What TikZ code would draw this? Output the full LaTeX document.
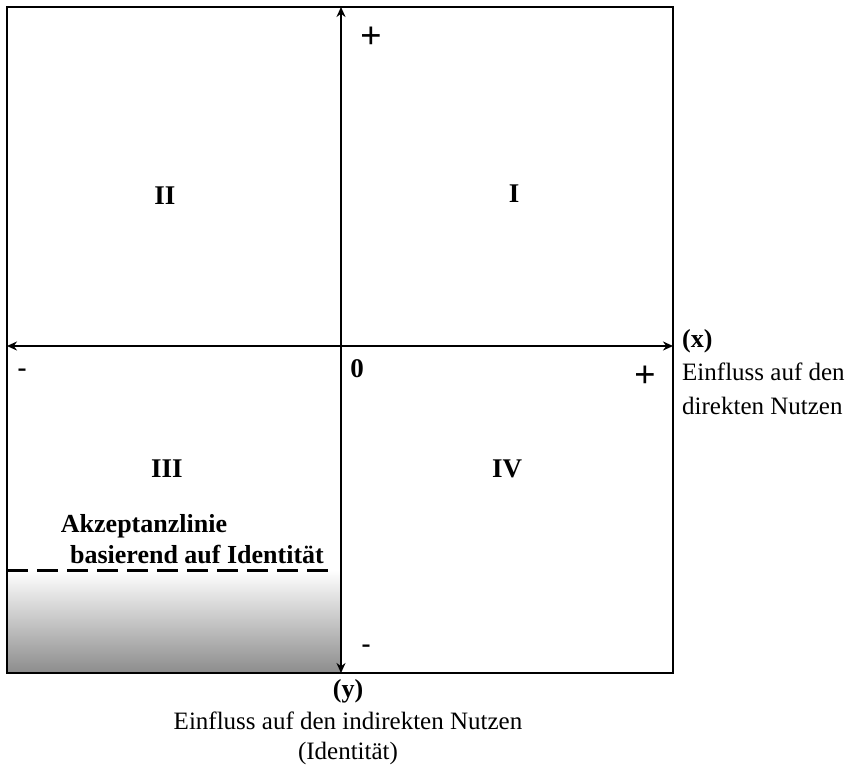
\documentclass[tikz,border=0pt]{standalone}
\usepackage{fontspec}
\setmainfont{Liberation Serif}
\usetikzlibrary{arrows.meta}
\begin{document}
\begin{tikzpicture}[x=1pt,y=-1pt,
  axis/.style={line width=1.8pt,-{Stealth[length=10pt,width=9pt]}},
  frame/.style={line width=1.8pt},
  big/.style={font=\fontsize{27}{30}\selectfont\bfseries},
  sign/.style={font=\fontsize{38}{40}\selectfont\bfseries},
  lbl/.style={font=\fontsize{25}{28}\selectfont},
  blbl/.style={font=\fontsize{26}{28}\selectfont\bfseries}]
\useasboundingbox (0,0) rectangle (859,768);
% shaded acceptance region
\shade[top color=white,bottom color=black!45] (7,570) rectangle (341,673);
\draw[frame] (7,7) rectangle (673,673);
\coordinate (top) at (341,7);
\coordinate (bot) at (341,673);
\coordinate (lft) at (7,346);
\coordinate (rgt) at (673,346);
\coordinate (center) at (341,346);
\draw[axis] (center) -- (top);
\draw[axis] (center) -- (bot);
\draw[axis] (center) -- (lft);
\draw[axis] (center) -- (rgt);
\coordinate (dl) at (7,570);
\coordinate (dr) at (333,570);
\draw[line width=3pt,dash pattern=on 21pt off 9pt] (dl) -- (dr);
% quadrant labels
\node[big] (q2) at (165,196) {II};
\node[big] (q1) at (514,194) {I};
\node[big] (q3) at (167,469) {III};
\node[big] (q4) at (507,469) {IV};
% signs
\node[sign] (pt) at (371,38) {+};
\node[sign] (pr) at (645,377) {+};
\node[big] (ml) at (22,373) {-};
\node[big] (zero) at (357,369) {0};
\node[big] (mb) at (366,649) {-};
% axis captions
\node[blbl,anchor=west,inner sep=0pt] (xl) at (682,341) {(x)};
\node[lbl,anchor=west,inner sep=0pt] (x1) at (682,372) {Einfluss auf den};
\node[lbl,anchor=west,inner sep=0pt] (x2) at (682,406) {direkten Nutzen};
\node[blbl] (yl) at (348,691) {(y)};
\node[lbl] (y1) at (348,721) {Einfluss auf den indirekten Nutzen};
\node[lbl] (y2) at (348,753) {(Identität)};
% acceptance line text
\node[blbl] (a1) at (144,526) {Akzeptanzlinie};
\node[blbl] (a2) at (197,554) {basierend auf Identität};
\end{tikzpicture}
\end{document}
